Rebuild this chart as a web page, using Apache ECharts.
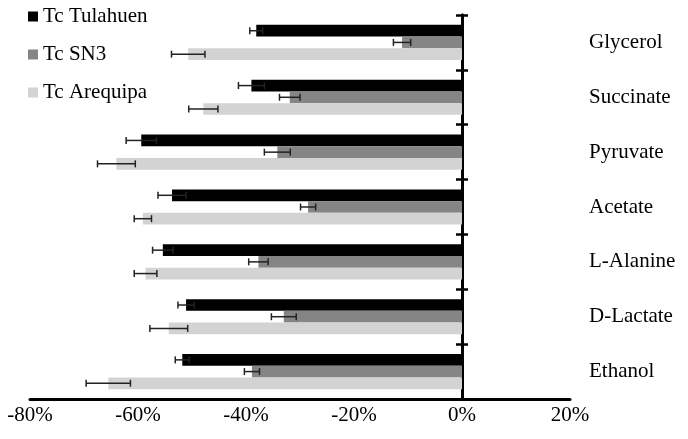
<!DOCTYPE html>
<html>
<head>
<meta charset="utf-8">
<script src="https://cdn.jsdelivr.net/npm/echarts@6/dist/echarts.min.js"></script>
<style>
  html, body { margin: 0; padding: 0; background: #fff; }
  #chart { width: 688px; height: 439px; }
</style>
</head>
<body>
<div id="chart"></div>
<script>
  // categories top to bottom
  var categories = ['Glycerol', 'Succinate', 'Pyruvate', 'Acetate', 'L-Alanine', 'D-Lactate', 'Ethanol'];
  var seriesNames = ['Tc Tulahuen', 'Tc SN3', 'Tc Arequipa'];

  // values in %, error = +/- half width
  var tulahuen = [-38.1, -39.0, -59.4, -53.7, -55.4, -51.1, -51.8];
  var tulahuenErr = [1.2, 2.4, 2.8, 2.6, 1.9, 1.5, 1.3];
  var sn3 = [-11.1, -31.9, -34.2, -28.5, -37.7, -33.0, -38.9];
  var sn3Err = [1.6, 1.9, 2.4, 1.4, 1.8, 2.3, 1.4];
  var arequipa = [-50.7, -47.9, -64.0, -59.1, -58.6, -54.3, -65.5];
  var arequipaErr = [3.1, 2.7, 3.5, 1.6, 2.1, 3.5, 4.1];

  var xTicks = [-80, -60, -40, -20, 0, 20];

  var colors = ['#000000', '#858585', '#d3d3d3'];
  var catGap = 0.36;
  var font = 'Liberation Serif';

  function errData(vals, errs) {
    return vals.map(function (v, i) {
      return [v, i, errs[i]];
    });
  }

  function errRender(idx) {
    return function (params, api) {
      var v = api.value(0);
      var cat = api.value(1);
      var e = api.value(2);
      var lo = api.coord([v - e, cat]);
      var hi = api.coord([v + e, cat]);
      var band = api.size([0, 1])[1];
      var barH = (band * (1 - catGap)) / 3;
      var y = lo[1] + (idx - 1) * barH;
      var cap = 3.5;
      var style = { stroke: '#222', lineWidth: 1.5 };
      return {
        type: 'group',
        children: [
          { type: 'line', shape: { x1: lo[0], y1: y, x2: hi[0], y2: y }, style: style },
          { type: 'line', shape: { x1: lo[0], y1: y - cap, x2: lo[0], y2: y + cap }, style: style },
          { type: 'line', shape: { x1: hi[0], y1: y - cap, x2: hi[0], y2: y + cap }, style: style },
        ],
      };
    };
  }

  var barVals = [tulahuen, sn3, arequipa];
  var errVals = [tulahuenErr, sn3Err, arequipaErr];

  var series = [];
  barVals.forEach(function (vals, i) {
    series.push({
      name: seriesNames[i],
      type: 'bar',
      yAxisIndex: 0,
      data: vals,
      barGap: 0,
      barCategoryGap: catGap * 100 + '%',
      itemStyle: { color: colors[i] },
      z: 2,
    });
  });
  errVals.forEach(function (errs, i) {
    series.push({
      type: 'custom',
      yAxisIndex: 0,
      data: errData(barVals[i], errs),
      encode: { x: 0, y: 1 },
      renderItem: errRender(i),
      z: 5,
      silent: true,
    });
  });

  var chart = echarts.init(document.getElementById('chart'));
  chart.setOption({
    animation: false,
    textStyle: { fontFamily: font },
    legend: {
      data: seriesNames,
      orient: 'vertical',
      left: 28,
      top: 6,
      padding: 0,
      icon: 'rect',
      itemWidth: 10,
      itemHeight: 10,
      itemGap: 17,
      textStyle: { fontFamily: font, fontSize: 21, color: '#000', lineHeight: 21 },
    },
    grid: { left: 30, right: 118, top: 15, bottom: 40, containLabel: false, outerBoundsMode: 'none' },
    xAxis: {
      type: 'value',
      min: xTicks[0],
      max: xTicks[xTicks.length - 1],
      interval: 20,
      axisLine: { show: true, lineStyle: { color: '#000', width: 3 } },
      axisTick: { show: false },
      splitLine: { show: false },
      axisLabel: {
        formatter: '{value}%',
        fontFamily: font,
        fontSize: 21,
        color: '#000',
        margin: 6,
      },
    },
    yAxis: [
      {
        // zero line, ticks pointing right
        type: 'category',
        data: categories,
        inverse: true,
        position: 'right',
        axisLine: { show: true, onZero: true, onZeroAxisIndex: 0, lineStyle: { color: '#000', width: 3 } },
        axisTick: { show: true, length: 6, lineStyle: { color: '#000', width: 2.5 } },
        axisLabel: { show: false },
        splitLine: { show: false },
      },
      {
        // ticks pointing left
        type: 'category',
        data: categories,
        inverse: true,
        position: 'right',
        axisLine: { show: true, onZero: true, onZeroAxisIndex: 0, lineStyle: { color: '#000', width: 3 } },
        axisTick: { show: true, inside: true, length: 6, lineStyle: { color: '#000', width: 2.5 } },
        axisLabel: { show: false },
        splitLine: { show: false },
      },
      {
        // category names on the right edge
        type: 'category',
        data: categories,
        inverse: true,
        position: 'right',
        axisLine: { show: false, onZero: false },
        axisTick: { show: false },
        axisLabel: { fontFamily: font, fontSize: 21, color: '#000', margin: 19 },
        splitLine: { show: false },
      },
    ],
    series: series,
  });
</script>
</body>
</html>
